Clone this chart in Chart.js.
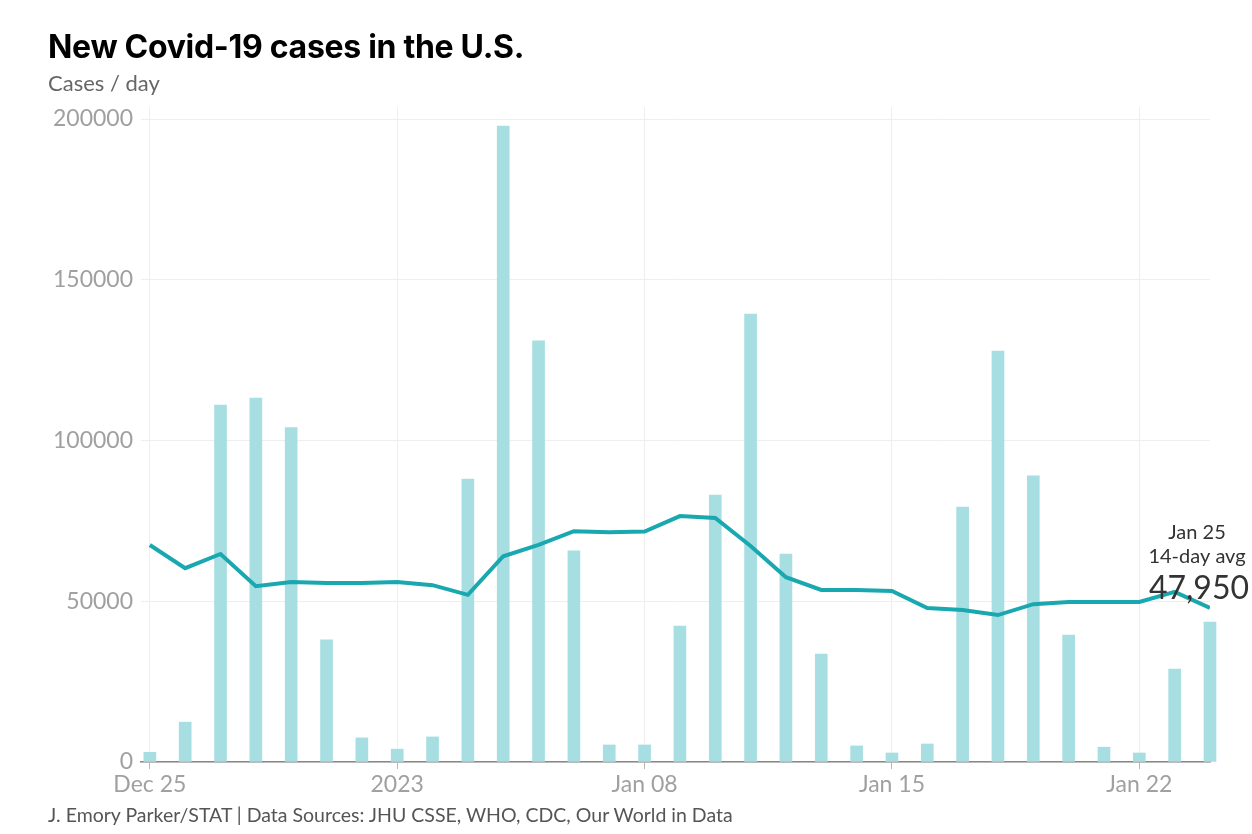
<!DOCTYPE html>
<html>
<head>
<meta charset="utf-8">
<script src="https://cdn.jsdelivr.net/npm/chart.js@4.4.1/dist/chart.umd.min.js"></script>
<style>
  html, body { margin: 0; padding: 0; background: #fff; }
  #wrap { position: relative; width: 1252px; height: 834px; font-family: Lato, "Noto Sans", sans-serif; }
  #chart { position: absolute; left: 0; top: 0; }
  .title { position: absolute; left: 48px; top: 27px; font: 700 32px Inter, Lato, sans-serif; color: #000; letter-spacing: -0.3px; }
  .sub { position: absolute; left: 48px; top: 69px; font: 22px Lato, sans-serif; color: #666; }
  .foot { position: absolute; left: 48px; top: 803px; font: 19.5px Lato, sans-serif; color: #555; }
</style>
</head>
<body>
<div id="wrap">
  <canvas id="chart" width="1252" height="834"></canvas>
  <div class="title">New Covid-19 cases in the U.S.</div>
  <div class="sub">Cases / day</div>
  <div class="foot">J. Emory Parker/STAT | Data Sources: JHU CSSE, WHO, CDC, Our World in Data</div>
</div>
<script>
// ===== DATA (Dec 25 2022 -> Jan 24 2023, one value per day) =====
const dateLabels = [
  'Dec 25','Dec 26','Dec 27','Dec 28','Dec 29','Dec 30','Dec 31',
  'Jan 01','Jan 02','Jan 03','Jan 04','Jan 05','Jan 06','Jan 07',
  'Jan 08','Jan 09','Jan 10','Jan 11','Jan 12','Jan 13','Jan 14',
  'Jan 15','Jan 16','Jan 17','Jan 18','Jan 19','Jan 20','Jan 21',
  'Jan 22','Jan 23','Jan 24'
];

const dailyCases = [
  3000, 12400, 111000, 113200, 104000, 38000, 7500,
  4000, 7800, 88000, 197800, 131000, 65700, 5300,
  5300, 42300, 83000, 139300, 64700, 33600, 5000,
  2800, 5600, 79300, 127800, 89000, 39500, 4600,
  2800, 28900, 43500
];

const avg14 = [
  67500, 60300, 64700, 54700, 56000, 55700, 55700,
  56000, 55000, 52000, 64000, 67500, 71800, 71500,
  71700, 76500, 75900, 67200, 57500, 53500, 53500,
  53200, 47900, 47300, 45700, 49100, 49800, 49800,
  49800, 52900, 47950
];

const tickDays = [0, 7, 14, 21, 28];
const tickLabels = ['Dec 25', '2023', 'Jan 08', 'Jan 15', 'Jan 22'];
const yTicks = [0, 50000, 100000, 150000, 200000];

const annoDate = 'Jan 25';
const annoLabel = '14-day avg';
// =====================================================

const BAR_COLOR = '#a6dee2';
const LINE_COLOR = '#1aa8b0';

// last point label
const endLabel = {
  id: 'endLabel',
  afterDatasetsDraw(chart) {
    const meta = chart.getDatasetMeta(1);
    const pt = meta.data[meta.data.length - 1];
    if (!pt) return;
    const ctx = chart.ctx;
    ctx.save();
    ctx.textAlign = 'center';
    ctx.textBaseline = 'middle';
    ctx.fillStyle = '#333';
    ctx.font = '20px Lato, sans-serif';
    ctx.fillText(annoDate, pt.x - 13, pt.y - 75);
    ctx.fillText(annoLabel, pt.x - 13, pt.y - 51);
    ctx.font = '32px Lato, sans-serif';
    ctx.fillText(avg14[avg14.length - 1].toLocaleString('en-US'), pt.x - 11, pt.y - 19);
    ctx.restore();
  }
};

new Chart(document.getElementById('chart').getContext('2d'), {
  type: 'bar',
  data: {
    datasets: [
      {
        type: 'bar',
        label: 'Cases',
        data: dailyCases.map((v, i) => ({ x: i, y: v })),
        backgroundColor: BAR_COLOR,
        borderWidth: 0,
        barThickness: 12,
        clip: false,
        order: 2
      },
      {
        type: 'line',
        label: '14-day avg',
        data: avg14.map((v, i) => ({ x: i, y: v })),
        borderColor: LINE_COLOR,
        borderWidth: 4,
        pointRadius: 0,
        tension: 0,
        fill: false,
        order: 1
      }
    ]
  },
  options: {
    responsive: false,
    animation: false,
    layout: { padding: { left: 0, right: 42, top: 107, bottom: 32 } },
    plugins: {
      legend: { display: false },
      tooltip: { enabled: false },
      title: { display: false }
    },
    scales: {
      x: {
        type: 'linear',
        min: -0.25,
        max: 30,
        offset: false,
        afterBuildTicks: s => { s.ticks = tickDays.map(v => ({ value: v })); },
        afterFit: s => { s.height = 40; },
        ticks: {
          callback: (v) => tickLabels[tickDays.indexOf(v)],
          color: '#a0a0a0',
          font: { family: 'Lato, sans-serif', size: 23 },
          padding: 2,
          maxRotation: 0,
          autoSkip: false
        },
        grid: { offset: false, color: '#eeeeee', lineWidth: 1, drawTicks: true, tickLength: 7, tickColor: '#b8b8b8' },
        border: { display: true, color: '#888', width: 1.5 }
      },
      y: {
        min: 0,
        max: 200000 * 655 / 643,
        afterBuildTicks: s => { s.ticks = yTicks.map(v => ({ value: v })); },
        afterFit: s => { s.width = 141; },
        ticks: {
          callback: v => String(v),
          color: '#a0a0a0',
          font: { family: 'Lato, sans-serif', size: 23 },
          padding: 8
        },
        grid: { color: '#eeeeee', lineWidth: 1, drawTicks: false },
        border: { display: false }
      }
    }
  },
  plugins: [endLabel]
});
</script>
</body>
</html>
